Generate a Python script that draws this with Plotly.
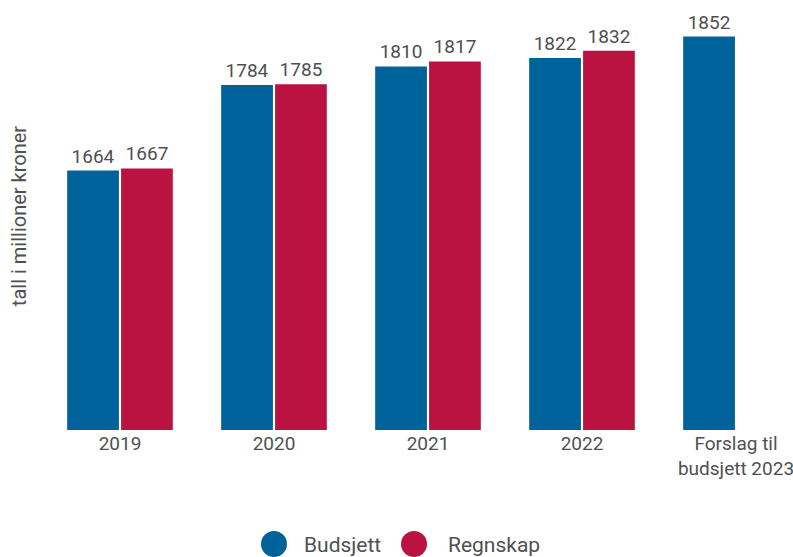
import plotly.graph_objects as go

categories = ["2019", "2020", "2021", "2022", "Forslag til<br>budsjett 2023"]
budsjett = [1664, 1784, 1810, 1822, 1852]
regnskap = [1667, 1785, 1817, 1832, None]

C_B = "#00629B"
C_R = "#BA1342"
TXT = "#505050"
FONT = "Roboto"

fig = go.Figure()
for name, vals, col in [("Budsjett", budsjett, C_B), ("Regnskap", regnskap, C_R)]:
    fig.add_trace(go.Bar(
        name=name, x=categories, y=vals, marker=dict(color=col, line=dict(width=0)),
        texttemplate="%{y}", textposition="outside", cliponaxis=False,
        textfont=dict(family=FONT, size=19, color=TXT), showlegend=False,
    ))

W, H = 793, 557
L, R, T, B = 43, 0, 2, 127
pw, ph = W - L - R, H - T - B

def px(x):
    return (x - L) / pw

def py(y):
    return (H - B - y) / ph

shapes = []
annotations = []
for cx, tx, name, col in [(274, 302, "Budsjett", C_B), (414, 446, "Regnskap", C_R)]:
    r = 13
    shapes.append(dict(type="circle", xref="paper", yref="paper",
                       x0=px(cx - r), x1=px(cx + r), y0=py(544 + r), y1=py(544 - r),
                       fillcolor=col, line=dict(width=0)))
    annotations.append(dict(xref="paper", yref="paper", x=px(tx), y=py(545),
                            xanchor="left", yanchor="middle", text=name, showarrow=False,
                            font=dict(family=FONT, size=21, color=TXT)))

fig.update_layout(
    width=W, height=H, margin=dict(l=L, r=R, t=T, b=B),
    paper_bgcolor="white", plot_bgcolor="white",
    barmode="group", bargap=0.3, bargroupgap=0.04,
    font=dict(family=FONT, color=TXT),
    xaxis=dict(range=[-0.5, -0.5 + pw / 154], showgrid=False, zeroline=False, showline=False,
               ticks="", tickfont=dict(family=FONT, size=19, color=TXT)),
    yaxis=dict(range=[1300, 1300 + ph / 0.7128], showgrid=False, zeroline=False, showline=False,
               showticklabels=False, ticks="",
               title=dict(text="tall i millioner kroner", standoff=10,
                          font=dict(family=FONT, size=20, color=TXT))),
    showlegend=False, shapes=shapes, annotations=annotations,
)

fig.write_html("out.html", config={"displayModeBar": False},
               post_script="document.body.style.margin='0';document.body.style.overflow='hidden';")
